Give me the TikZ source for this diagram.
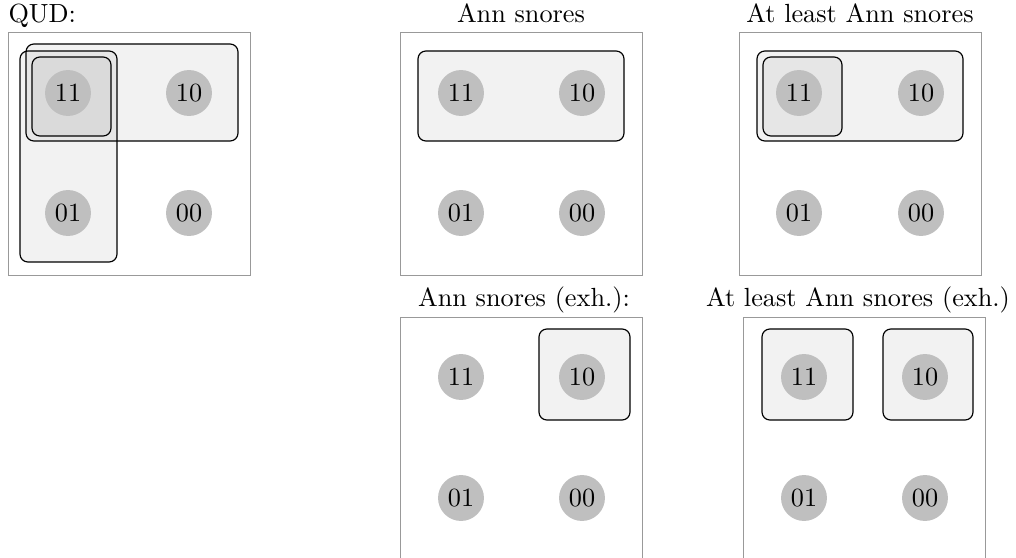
\documentclass[tikz,border=0pt]{standalone}
\begin{document}
\begin{tikzpicture}[x=0.381pt,y=-0.381pt,
  panel/.style={draw=black!40,line width=0.3pt},
  grp/.style={draw=black,line width=0.45pt,rounded corners=3pt,fill=black,fill opacity=0.05},
  world/.style={circle,fill=black!25,minimum size=17.5pt,inner sep=0pt,font=\normalsize},
  ttl/.style={anchor=base,inner sep=0pt}]
\useasboundingbox (0,0) rectangle (1016,558);
% panel outlines
\draw[panel] (8,32) rectangle ++(242,243);
\draw[panel] (400,32) rectangle ++(242,243);
\draw[panel] (739,32) rectangle ++(242,243);
\draw[panel] (400,317) rectangle ++(242,243);
\draw[panel] (743,317) rectangle ++(242,243);
% titles
\node[ttl,anchor=base west] (tq) at (8,23) {QUD:};
\node[ttl] (ta) at (521,23) {Ann snores};
\node[ttl] (tal) at (860,23) {At least Ann snores};
\node[ttl] (tae) at (524,307) {Ann snores (exh.):};
\node[ttl] (tale) at (858,307) {At least Ann snores (exh.)};
% groups
\draw[grp] (26,44) rectangle (238,141);
\draw[grp] (20,51) rectangle (117,262);
\draw[grp] (32,57) rectangle (111,136);
\draw[grp] (418,51) rectangle (624,141);
\draw[grp] (757,51) rectangle (963,141);
\draw[grp] (763,57) rectangle (842,136);
\draw[grp] (539,329) rectangle (630,420);
\draw[grp] (762,329) rectangle (853,420);
\draw[grp] (883,329) rectangle (973,420);
% worlds
\node[world] (q11) at (68,93) {11};
\node[world] (q10) at (189,93) {10};
\node[world] (q01) at (68,213) {01};
\node[world] (q00) at (189,213) {00};
\node[world] (a11) at (461,93) {11};
\node[world] (a10) at (582,93) {10};
\node[world] (a01) at (461,213) {01};
\node[world] (a00) at (582,213) {00};
\node[world] (l11) at (799,93) {11};
\node[world] (l10) at (921,93) {10};
\node[world] (l01) at (799,213) {01};
\node[world] (l00) at (921,213) {00};
\node[world] (e11) at (461,377) {11};
\node[world] (e10) at (582,377) {10};
\node[world] (e01) at (461,498) {01};
\node[world] (e00) at (582,498) {00};
\node[world] (x11) at (804,377) {11};
\node[world] (x10) at (925,377) {10};
\node[world] (x01) at (804,498) {01};
\node[world] (x00) at (925,498) {00};
\end{tikzpicture}
\end{document}
